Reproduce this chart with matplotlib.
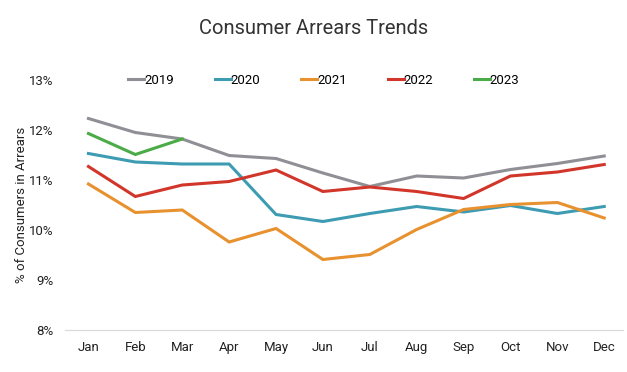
import matplotlib.pyplot as plt

months = ["Jan", "Feb", "Mar", "Apr", "May", "Jun", "Jul", "Aug", "Sep", "Oct", "Nov", "Dec"]
y2019 = [12.23, 11.95, 11.82, 11.49, 11.43, 11.14, 10.87, 11.08, 11.04, 11.21, 11.33, 11.48]
y2020 = [11.53, 11.36, 11.32, 11.32, 10.31, 10.17, 10.33, 10.47, 10.36, 10.49, 10.33, 10.47]
y2021 = [10.92, 10.35, 10.40, 9.76, 10.03, 9.41, 9.51, 10.01, 10.41, 10.51, 10.55, 10.24]
y2022 = [11.27, 10.67, 10.90, 10.97, 11.20, 10.77, 10.86, 10.77, 10.63, 11.08, 11.16, 11.31]
y2023 = [11.93, 11.51, 11.82]

series = [
    ("2019", y2019, "#8f8f96"),
    ("2020", y2020, "#3d9bb2"),
    ("2021", y2021, "#e8912f"),
    ("2022", y2022, "#d2362b"),
    ("2023", y2023, "#4aab47"),
]

plt.rcParams["font.family"] = ["Roboto", "DejaVu Sans"]

fig = plt.figure(figsize=(6.27, 3.72), dpi=100)
ax = fig.add_axes([65 / 627, 42 / 372, 558 / 627, 250 / 372])

x = list(range(len(months)))
for name, vals, color in series:
    ax.plot(x[:len(vals)], vals, color=color, linewidth=2.2, label=name,
            solid_joinstyle="miter")

ax.set_xlim(-0.5, 11.4)
ax.set_ylim(8, 13)
ax.set_xticks(x)
ax.set_xticklabels(months)
ax.set_yticks(range(8, 14))
ax.set_yticklabels([f"{v}%" for v in range(8, 14)])
ax.tick_params(length=0, labelsize=9.5, colors="#222222")
ax.tick_params(axis="x", pad=8)
ax.tick_params(axis="y", pad=8)
for side in ["top", "right", "left"]:
    ax.spines[side].set_visible(False)
ax.spines["bottom"].set_color("#d9d9d9")
ax.set_ylabel("% of Consumers in Arrears", fontsize=9.5, color="#222222", labelpad=1)

ax.legend(loc="center", bbox_to_anchor=(0.464, 1.0), ncol=5, frameon=False,
          fontsize=9.5, handlelength=1.2, handletextpad=0.0, columnspacing=3.1,
          borderaxespad=0)

fig.suptitle("Consumer Arrears Trends", x=0.5, y=0.95, fontsize=14.5, color="#333333")

fig.savefig("out.png", dpi=100)
